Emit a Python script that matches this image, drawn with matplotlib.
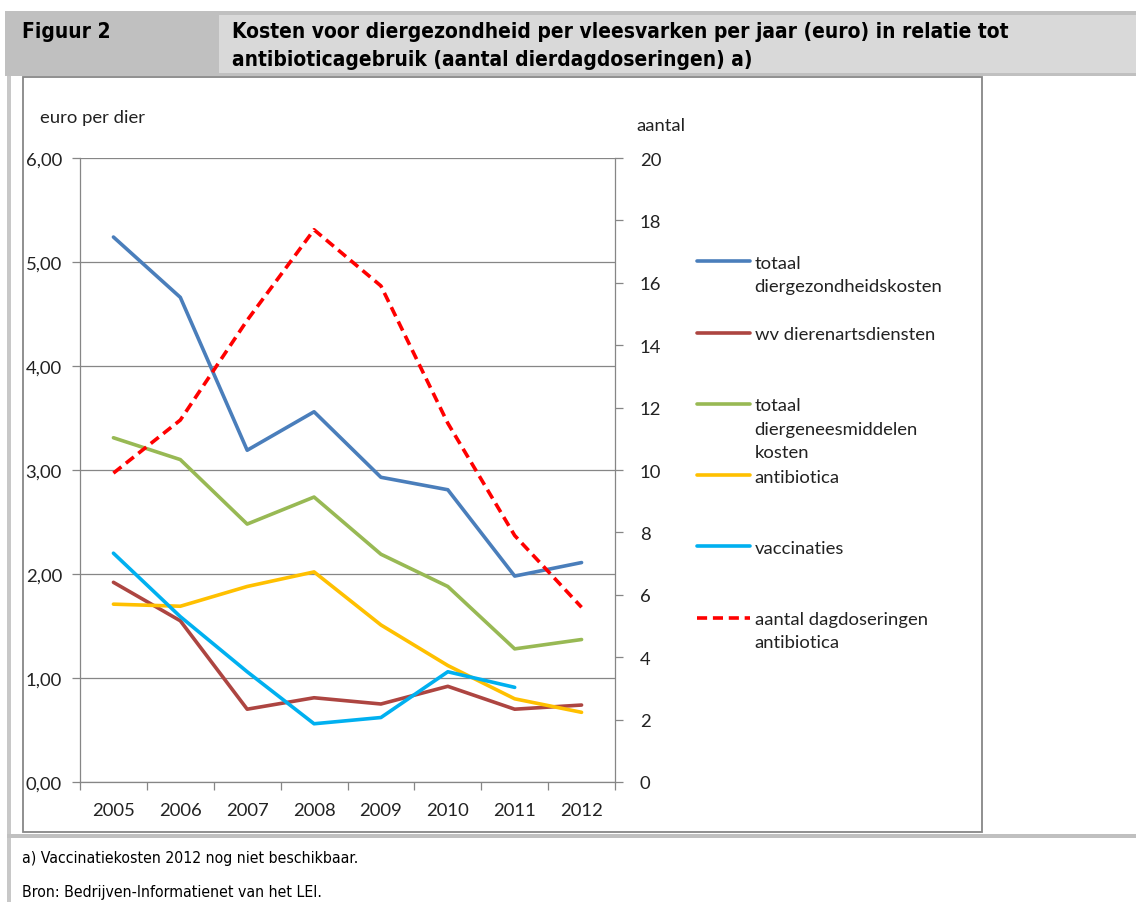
import numpy as np
import matplotlib
matplotlib.use("Agg")
import matplotlib.pyplot as plt
from matplotlib.patches import Rectangle
from matplotlib.legend_handler import HandlerLine2D
from matplotlib.ticker import FuncFormatter, MultipleLocator, FixedLocator

# data
years = ["2005", "2006", "2007", "2008", "2009", "2010", "2011", "2012"]
totaal = [5.24, 4.66, 3.19, 3.56, 2.93, 2.81, 1.98, 2.11]
dierenarts = [1.92, 1.55, 0.70, 0.81, 0.75, 0.92, 0.70, 0.74]
geneesmiddelen = [3.31, 3.10, 2.48, 2.74, 2.19, 1.88, 1.28, 1.37]
antibiotica = [1.71, 1.69, 1.88, 2.02, 1.51, 1.12, 0.80, 0.67]
vaccinaties = [2.20, 1.59, 1.06, 0.56, 0.62, 1.06, 0.91, np.nan]
dagdoseringen = [9.9, 11.6, 14.8, 17.7, 15.9, 11.5, 7.9, 5.6]

labels = ["totaal\ndiergezondheidskosten",
          "wv dierenartsdiensten",
          "totaal\ndiergeneesmiddelen\nkosten",
          "antibiotica",
          "vaccinaties",
          "aantal dagdoseringen\nantibiotica"]
colors = ["#4A7EBB", "#AD4541", "#98B954", "#FFC000", "#00B0F0", "#FF0000"]

W, H = 1136, 903
def fx(px):
    return px / W
def fy(py):
    return 1 - py / H

chart_font = "Lato"
fs = 13.3
head = dict(family="DejaVu Sans", stretch="condensed")
grey = "#868686"

fig = plt.figure(figsize=(W / 100, H / 100), dpi=100)

# page decoration: header band, borders (behind the axes)
def box(x0, y0, x1, y1, **kw):
    fig.patches.append(Rectangle((fx(x0), fy(y1)), fx(x1) - fx(x0), (y1 - y0) / H,
                                 transform=fig.transFigure, zorder=-5, **kw))

box(5, 12, 1136, 77, facecolor="#c0c0c0", edgecolor="none")
box(219, 16, 1136, 74, facecolor="#d9d9d9", edgecolor="none")
box(7, 77, 11, 903, facecolor="#c8c8c8", edgecolor="none")
box(7, 835, 1136, 839, facecolor="#c0c0c0", edgecolor="none")
box(23, 78, 982, 833, facecolor="white", edgecolor="#878787", lw=1.3)

fig.text(fx(22), fy(32), "Figuur 2", weight="bold", fontsize=15, va="center", **head)
fig.text(fx(232), fy(32), "Kosten voor diergezondheid per vleesvarken per jaar (euro) in relatie tot",
         weight="bold", fontsize=15, va="center", **head)
fig.text(fx(232), fy(60), "antibioticagebruik (aantal dierdagdoseringen) a)",
         weight="bold", fontsize=15, va="center", **head)
fig.text(fx(22), fy(859), "a) Vaccinatiekosten 2012 nog niet beschikbaar.",
         fontsize=11.3, va="center", **head)
fig.text(fx(22), fy(893), "Bron: Bedrijven-Informatienet van het LEI.",
         fontsize=11.3, va="center", **head)

# axes
ax = fig.add_axes([fx(80), fy(783), fx(615) - fx(80), (783 - 159) / H])
ax.patch.set_alpha(0)
ax2 = ax.twinx()
x = np.arange(len(years))
lw = 2.6

series = [totaal, dierenarts, geneesmiddelen, antibiotica, vaccinaties]
handles = []
for vals, c in zip(series, colors[:5]):
    h, = ax.plot(x, vals, color=c, lw=lw, solid_capstyle="round", solid_joinstyle="round")
    handles.append(h)
h, = ax2.plot(x, dagdoseringen, color=colors[5], lw=lw, ls=(0, (2.8, 1.6)),
              dash_capstyle="butt")
handles.append(h)

ax.set_xlim(-0.5, len(years) - 0.5)
ax.set_ylim(0, 6)
ax2.set_ylim(0, 20)

ax.yaxis.set_major_locator(MultipleLocator(1))
ax.yaxis.set_major_formatter(FuncFormatter(lambda v, p: f"{v:.2f}".replace(".", ",")))
ax2.yaxis.set_major_locator(MultipleLocator(2))
ax.grid(axis="y", color=grey, lw=0.9)
ax.set_axisbelow(True)

ax.set_xticks(x)
ax.set_xticklabels(years)
ax.xaxis.set_minor_locator(FixedLocator(np.arange(-0.5, len(years), 1.0)))
ax.tick_params(axis="x", which="major", length=0, pad=14.5)
ax.tick_params(axis="x", which="minor", length=6, color=grey, width=0.9)
ax.tick_params(axis="y", length=6, color=grey, width=0.9, pad=7)
ax2.tick_params(axis="y", length=6, color=grey, width=0.9, pad=12)
for a in (ax, ax2):
    for lab in a.get_xticklabels() + a.get_yticklabels():
        lab.set_family(chart_font)
        lab.set_fontsize(fs)
        lab.set_color("#222222")
    for s in a.spines.values():
        s.set_visible(False)
ax.spines["left"].set_visible(True)
ax.spines["bottom"].set_visible(True)
ax2.spines["right"].set_visible(True)
for s in (ax.spines["left"], ax.spines["bottom"], ax2.spines["right"]):
    s.set_color(grey)
    s.set_linewidth(0.9)

fig.text(fx(40), fy(118), "euro per dier", family=chart_font, fontsize=fs, va="center", color="#222222")
fig.text(fx(636), fy(126), "aantal", family=chart_font, fontsize=fs, va="center", color="#222222")


# legend: each entry in an equal slot of three text lines, line at the first text line
class TopLineHandler(HandlerLine2D):
    def __init__(self, shift, **kw):
        super().__init__(**kw)
        self.shift = shift

    def create_artists(self, legend, orig_handle, xdescent, ydescent, width, height, fontsize, trans):
        arts = super().create_artists(legend, orig_handle, xdescent, ydescent, width, height, fontsize, trans)
        for a in arts:
            a.set_ydata(np.asarray(a.get_ydata()) + self.shift)
        return arts


padded = []
for lab in labels:
    n = lab.count("\n") + 1
    padded.append(lab + "\n " * (3 - n))

leg = fig.legend(handles, padded, loc="upper left", bbox_to_anchor=(fx(697), fy(256)),
                 frameon=False, borderpad=0, borderaxespad=0, handlelength=2.85,
                 handletextpad=0.27, labelspacing=0.47,
                 prop={"family": chart_font, "size": fs},
                 handler_map={h: TopLineHandler(shift=17.9) for h in handles})
for t in leg.get_texts():
    t.set_linespacing(1.56)
    t.set_color("#222222")

fig.savefig("out.png", dpi=100)
